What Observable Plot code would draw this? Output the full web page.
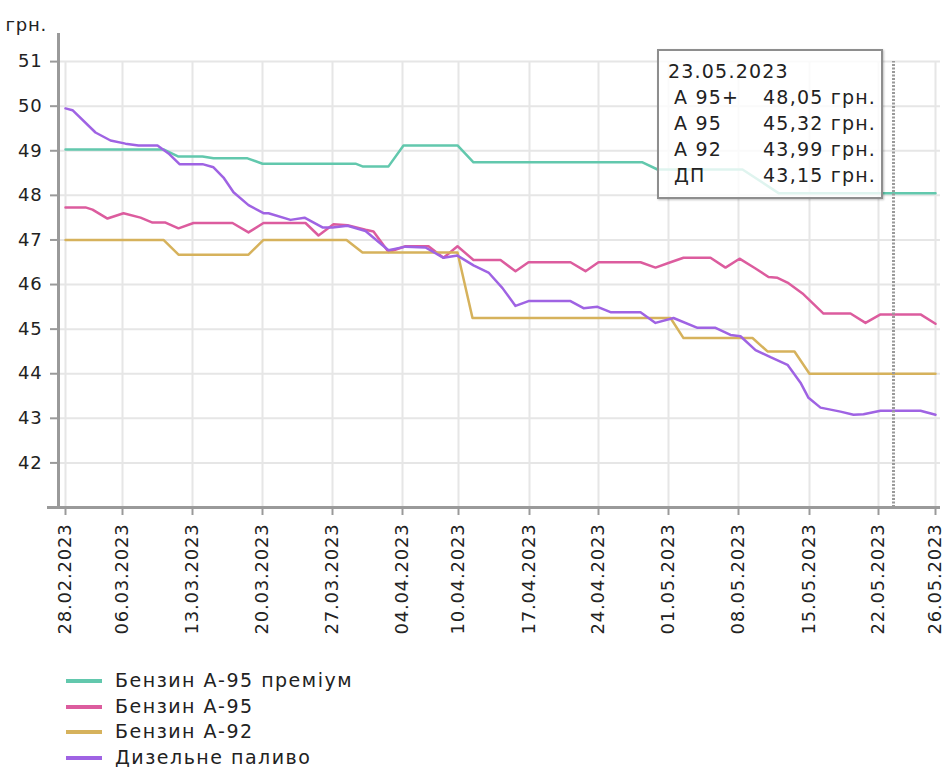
<!DOCTYPE html>
<html>
<head>
<meta charset="utf-8">
<script src="https://cdn.jsdelivr.net/npm/d3@7"></script>
<script src="https://cdn.jsdelivr.net/npm/@observablehq/plot@0.6"></script>
<style>
  html, body { margin: 0; padding: 0; background: #fff; }
  #wrap { position: relative; width: 950px; height: 771px; font-family: "DejaVu Sans", sans-serif; color: #222; }
  #chart { position: absolute; left: 0; top: 0; }
  #tip { position: absolute; left: 657px; top: 49px; width: 222px; height: 139px;
         border: 2px solid #8e8e8e; background: rgba(255,255,255,0.8);
         box-shadow: 1px 1px 2px rgba(0,0,0,0.25);
         font-size: 19px; letter-spacing: 1.2px; line-height: 26px; padding-top: 7px; box-sizing: content-box; }
  #tip .date { padding-left: 9px; }
  #tip .row { display: flex; justify-content: space-between; padding-left: 15px; padding-right: 5px; }
  #legend { position: absolute; left: 66px; top: 668px; font-size: 19px; letter-spacing: 1.5px; line-height: 25.7px; }
  #legend .item { display: flex; align-items: center; }
  #legend .sw { width: 36px; height: 4px; margin-right: 13px; }
</style>
</head>
<body>
<div id="wrap">
  <div id="chart"></div>
  <div id="tip"></div>
  <div id="legend"></div>
</div>
<script>
// ---- data ----
// x position = day index along the chart axis (28.02.2023 = 0)
const xTickIdx    = [0, 5.7, 12.7, 19.7, 26.7, 33.7, 39.3, 46.4, 53.3, 60.3, 67.3, 74.4, 81.3, 87];
const xTickLabels = ["28.02.2023", "06.03.2023", "13.03.2023", "20.03.2023", "27.03.2023", "04.04.2023",
                     "10.04.2023", "17.04.2023", "24.04.2023", "01.05.2023", "08.05.2023", "15.05.2023",
                     "22.05.2023", "26.05.2023"];
const yTicks = [42, 43, 44, 45, 46, 47, 48, 49, 50, 51];

const seriesNames = ["Бензин А-95 преміум", "Бензин А-95", "Бензин А-92", "Дизельне паливо"];
const seriesColors = ["#62c8ad", "#dc5c9e", "#d6b25c", "#9f63e3"];

const a95plus = [[0,49.03],[9.8,49.03],[11.3,48.87],[13.7,48.87],[14.8,48.83],[18.2,48.83],[19.7,48.71],
  [29,48.71],[29.7,48.65],[32.3,48.65],[33.8,49.12],[39.2,49.12],[40.8,48.74],[57.7,48.74],[59.2,48.58],
  [67.7,48.58],[71.3,48.05],[87,48.05]];

const a95 = [[0,47.73],[2,47.73],[2.7,47.68],[4.2,47.48],[5.8,47.6],[7.5,47.5],[8.7,47.39],[10,47.39],
  [11.3,47.26],[12.8,47.38],[16.7,47.38],[18.3,47.17],[19.8,47.38],[24,47.38],[25.3,47.1],[26.8,47.35],
  [28.2,47.33],[30,47.23],[30.8,47.19],[32.3,46.73],[34,46.86],[36.3,46.86],[37.8,46.6],[39.2,46.86],
  [40.8,46.55],[43.5,46.55],[45,46.3],[46.3,46.5],[50.5,46.5],[52,46.3],[53.3,46.5],[57.5,46.5],
  [59,46.38],[60.5,46.5],[61.8,46.6],[64.5,46.6],[66,46.38],[67.4,46.58],[69,46.36],[70.3,46.17],
  [71.2,46.15],[72.3,46.03],[73.7,45.8],[75.8,45.35],[78.5,45.35],[80,45.14],[81.5,45.33],[85.5,45.33],
  [87,45.12]];

const a92 = [[0,47.0],[9.8,47.0],[11.3,46.67],[18.3,46.67],[19.8,47.0],[28.1,47.0],[29.7,46.72],
  [39.2,46.72],[40.7,45.25],[60.5,45.25],[61.8,44.8],[68.7,44.8],[70.2,44.5],[72.9,44.5],[74.4,44.0],
  [87,44.0]];

const diesel = [[0,49.95],[0.7,49.91],[3,49.41],[4.5,49.23],[6,49.16],[7.3,49.12],[9.2,49.12],[10.3,48.94],
  [11.4,48.7],[13.7,48.7],[14.8,48.63],[15.8,48.4],[16.8,48.07],[18.3,47.78],[19.8,47.6],[20.3,47.6],
  [22.5,47.45],[23.9,47.5],[25.7,47.28],[26.7,47.28],[28.2,47.32],[30,47.2],[32.3,46.77],[34,46.85],
  [36,46.83],[37.8,46.6],[39.2,46.65],[40.8,46.43],[42.3,46.27],[43.7,45.92],[45,45.52],[46.3,45.63],
  [50.5,45.63],[51.8,45.47],[53.2,45.5],[54.5,45.38],[57.5,45.38],[59,45.14],[60.8,45.25],[63.2,45.03],
  [65,45.03],[66.5,44.87],[67.5,44.84],[69,44.53],[70.5,44.37],[72.2,44.2],[73.5,43.8],[74.3,43.46],
  [75.5,43.24],[77.5,43.15],[78.8,43.08],[79.8,43.09],[81.5,43.17],[85.5,43.17],[87,43.08]];

// tooltip (hovered date)
const tipIdx = 82.8;
const tipDate = "23.05.2023";
const tipLabels = ["А 95+", "А 95", "А 92", "ДП"];
const tipValues = [48.05, 45.32, 43.99, 43.15];
const unit = "грн.";

// ---- build ----
const allSeries = [a95plus, a95, a92, diesel];
const rows = allSeries.flatMap((s, k) => s.map(([x, y]) => ({x, y, name: seriesNames[k]})));
const labelByIdx = new Map(xTickIdx.map((d, i) => [d, xTickLabels[i]]));
const xMin = -0.7, xMax = 87.5, yMin = 41, yMax = 51.63;
const gridTop = d3.max(yTicks);
const font = "DejaVu Sans, sans-serif";

const chart = Plot.plot({
  width: 950,
  height: 650,
  marginLeft: 58,
  marginRight: 10,
  marginTop: 33,
  marginBottom: 143,
  x: {domain: [xMin, xMax]},
  y: {domain: [yMin, yMax]},
  color: {domain: seriesNames, range: seriesColors},
  style: {fontFamily: font, fontSize: "18px", color: "#222", background: "transparent", letterSpacing: "0.8px"},
  marks: [
    Plot.ruleY(yTicks, {x1: xMin, x2: xMax, stroke: "#e6e6e6", strokeWidth: 2}),
    Plot.ruleX(xTickIdx, {y1: yMin, y2: gridTop, stroke: "#e6e6e6", strokeWidth: 2}),
    Plot.line(rows, {x: "x", y: "y", z: "name", stroke: "name", strokeWidth: 2.5, strokeLinejoin: "round"}),
    Plot.ruleX([tipIdx], {y1: yMin, y2: gridTop, stroke: "#9a9a9a", strokeWidth: 3, strokeDasharray: "2,1.5"}),
    Plot.axisY({ticks: yTicks, tickSize: 8, tickPadding: 8, stroke: "#9a9a9a", strokeWidth: 2, label: null, fill: "#222"}),
    Plot.axisX({ticks: xTickIdx, tickFormat: d => labelByIdx.get(d), tickRotate: -90, tickSize: 8, tickPadding: 8,
                stroke: "#9a9a9a", strokeWidth: 2, label: null, fill: "#222"}),
    Plot.ruleX([xMin], {y1: yMin, y2: yMax, stroke: "#9a9a9a", strokeWidth: 3}),
    Plot.ruleY([yMin], {x1: xMin - 1.1, x2: xMax, stroke: "#9a9a9a", strokeWidth: 3}),
    Plot.text([unit], {frameAnchor: "top-left", text: d => d, dx: -53, dy: -15, textAnchor: "start", fill: "#222", letterSpacing: "1.5px"})
  ]
});
document.getElementById("chart").appendChild(chart);

// tooltip
const tip = document.getElementById("tip");
const fmt = v => v.toFixed(2).replace(".", ",") + " " + unit;
tip.innerHTML = `<div class="date">${tipDate}</div>` +
  tipLabels.map((l, i) => `<div class="row"><span>${l}</span><span>${fmt(tipValues[i])}</span></div>`).join("");

// legend
const legend = document.getElementById("legend");
legend.innerHTML = seriesNames.map((n, i) =>
  `<div class="item"><span class="sw" style="background:${seriesColors[i]}"></span><span>${n}</span></div>`).join("");
</script>
</body>
</html>
